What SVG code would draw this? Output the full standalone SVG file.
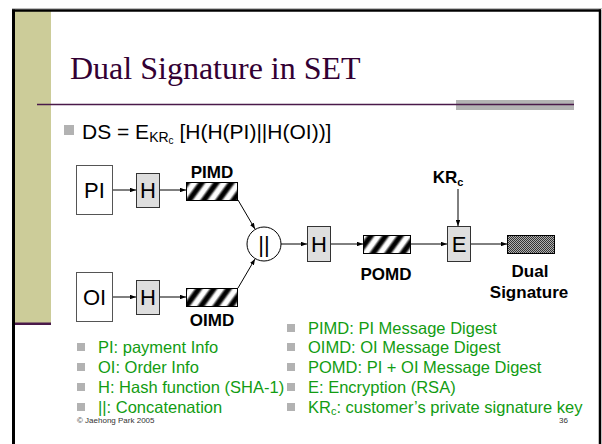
<svg xmlns="http://www.w3.org/2000/svg" width="602" height="444" viewBox="0 0 602 444">
  <style>
    .title { font-family: "Liberation Serif", "Times New Roman", serif; font-size: 32px; fill: #330033; }
    .body { font-family: "Liberation Sans", Arial, sans-serif; font-size: 21px; fill: #000; }
    .lbl { font-family: "Liberation Sans", Arial, sans-serif; font-size: 17px; font-weight: bold; fill: #000; text-anchor: middle; }
    .box-t { font-family: "Liberation Sans", Arial, sans-serif; font-size: 22px; fill: #000; text-anchor: middle; }
    .legend { font-family: "Liberation Sans", Arial, sans-serif; font-size: 16.5px; fill: #129c12; }
    .foot { font-family: "Liberation Sans", Arial, sans-serif; font-size: 8px; fill: #333; }
    .bullet { fill: #b2b2b2; }
    .src { fill: #fff; stroke: #555; stroke-width: 1; }
    .proc { fill: #dedede; stroke: #333; stroke-width: 1; }
    .digest { fill: url(#hatch); stroke: #000; stroke-width: 1; }
    .sig { fill: url(#dots); stroke: #000; stroke-width: 1; }
    .wire { stroke: #000; stroke-width: 1; fill: none; }
    .arrow { marker-end: url(#head); }
  </style>
  <defs>
    <marker id="head" viewBox="0 0 8 6" refX="8" refY="3" markerWidth="6" markerHeight="4.5" orient="auto" markerUnits="userSpaceOnUse">
      <path d="M0,0 L8,3 L0,6 z" fill="#000"/>
    </marker>
    <linearGradient id="stripe" x1="0" y1="0" x2="1" y2="0">
      <stop offset="0" stop-color="#fff"/>
      <stop offset="0.2" stop-color="#fff"/>
      <stop offset="0.42" stop-color="#000"/>
      <stop offset="0.68" stop-color="#000"/>
      <stop offset="0.9" stop-color="#fff"/>
      <stop offset="1" stop-color="#fff"/>
    </linearGradient>
    <pattern id="hatch" patternUnits="userSpaceOnUse" width="12" height="12" patternTransform="rotate(36)">
      <rect width="12" height="12" fill="url(#stripe)"/>
    </pattern>
    <pattern id="dots" patternUnits="userSpaceOnUse" width="2" height="2">
      <rect width="2" height="2" fill="#b0b0b0"/>
      <rect width="1" height="1" fill="#333"/>
      <rect x="1" y="1" width="1" height="1" fill="#333"/>
    </pattern>
  </defs>

  <rect width="602" height="444" fill="#fff"/>

  <!-- slide frame and side band -->
  <g id="frame">
    <rect x="15" y="11" width="36" height="312" fill="#cccc99"/>
    <rect x="15" y="322.5" width="36" height="2.5" fill="#4a1a4a"/>
    <line x1="12" y1="8.5" x2="602" y2="8.5" stroke="#bdbdbd" stroke-width="1"/>
    <line x1="12" y1="10.5" x2="601" y2="10.5" stroke="#000" stroke-width="2.5"/>
    <line x1="13.5" y1="9.5" x2="13.5" y2="444" stroke="#000" stroke-width="3"/>
    <line x1="600" y1="9.5" x2="600" y2="444" stroke="#000" stroke-width="2.5"/>
    <rect x="456" y="100" width="118" height="10" fill="#b3b3b3"/>
    <line x1="37" y1="104.5" x2="574" y2="104.5" stroke="#4a1a4a" stroke-width="1.3"/>
  </g>

  <g id="title">
    <text class="title" x="70" y="79">Dual Signature in SET</text>
  </g>

  <g id="formula">
    <rect class="bullet" x="64" y="125" width="10" height="10"/>
    <text class="body" x="82" y="139">DS = E<tspan font-size="14" dy="3">KR</tspan><tspan font-size="10" dy="2">c</tspan><tspan dy="-5"> [H(H(PI)||H(OI))]</tspan></text>
  </g>

  <!-- connectors -->
  <g id="connectors">
    <line class="wire arrow" x1="112" y1="190" x2="136" y2="190"/>
    <line class="wire arrow" x1="159" y1="190" x2="186" y2="190"/>
    <line class="wire arrow" x1="112" y1="297" x2="136" y2="297"/>
    <line class="wire arrow" x1="159" y1="297" x2="186" y2="297"/>
    <line class="wire arrow" x1="238" y1="200" x2="255" y2="229"/>
    <line class="wire arrow" x1="238" y1="288" x2="255" y2="259"/>
    <line class="wire arrow" x1="281" y1="244" x2="307" y2="244"/>
    <line class="wire arrow" x1="330" y1="244" x2="363" y2="244"/>
    <line class="wire arrow" x1="411" y1="244" x2="447" y2="244"/>
    <line class="wire arrow" x1="458" y1="189" x2="458" y2="226"/>
    <line class="wire arrow" x1="470" y1="244" x2="507" y2="244"/>
  </g>

  <g id="pi">
    <rect class="src" x="76.5" y="165.5" width="36" height="49"/>
    <text class="box-t" x="94.5" y="198">PI</text>
  </g>
  <g id="h-pi">
    <rect class="proc" x="136.5" y="173.5" width="23" height="34"/>
    <text class="box-t" x="148" y="198">H</text>
  </g>
  <g id="pimd">
    <rect class="digest" x="186.5" y="182.5" width="51" height="18"/>
    <text class="lbl" x="212" y="178">PIMD</text>
  </g>

  <g id="oi">
    <rect class="src" x="76.5" y="272.5" width="36" height="49"/>
    <text class="box-t" x="94.5" y="305">OI</text>
  </g>
  <g id="h-oi">
    <rect class="proc" x="136.5" y="280.5" width="23" height="34"/>
    <text class="box-t" x="148" y="305">H</text>
  </g>
  <g id="oimd">
    <rect class="digest" x="186.5" y="288.5" width="51" height="18"/>
    <text class="lbl" x="212" y="326">OIMD</text>
  </g>

  <g id="concat">
    <circle cx="264" cy="244" r="17" fill="#fff" stroke="#000" stroke-width="1"/>
    <text class="box-t" x="264" y="252">||</text>
  </g>

  <g id="h-po">
    <rect class="proc" x="307.5" y="226.5" width="23" height="35"/>
    <text class="box-t" x="319" y="252">H</text>
  </g>
  <g id="pomd">
    <rect class="digest" x="363.5" y="235.5" width="47" height="18"/>
    <text class="lbl" x="386" y="280">POMD</text>
  </g>

  <g id="key">
    <text class="lbl" x="448" y="183">KR<tspan font-size="11" dy="3">c</tspan></text>
  </g>
  <g id="encrypt">
    <rect class="proc" x="447.5" y="226.5" width="23" height="35"/>
    <text class="box-t" x="459" y="252">E</text>
  </g>

  <g id="dual-signature">
    <rect class="sig" x="507.5" y="235.5" width="47" height="18"/>
    <text class="lbl" x="530" y="277">Dual</text>
    <text class="lbl" x="529" y="298">Signature</text>
  </g>

  <!-- legend -->
  <g id="legend-left">
    <rect class="bullet" x="77" y="343" width="8" height="8"/>
    <text class="legend" x="98" y="353">PI: payment Info</text>
    <rect class="bullet" x="77" y="363" width="8" height="8"/>
    <text class="legend" x="98" y="373">OI: Order Info</text>
    <rect class="bullet" x="77" y="383" width="8" height="8"/>
    <text class="legend" x="98" y="393">H: Hash function (SHA-1)</text>
    <rect class="bullet" x="77" y="403" width="8" height="8"/>
    <text class="legend" x="98" y="413">||: Concatenation</text>
  </g>
  <g id="legend-right">
    <rect class="bullet" x="287" y="324" width="8" height="8"/>
    <text class="legend" x="308" y="334">PIMD: PI Message Digest</text>
    <rect class="bullet" x="287" y="343" width="8" height="8"/>
    <text class="legend" x="308" y="353">OIMD: OI Message Digest</text>
    <rect class="bullet" x="287" y="363" width="8" height="8"/>
    <text class="legend" x="308" y="373">POMD: PI + OI Message Digest</text>
    <rect class="bullet" x="287" y="383" width="8" height="8"/>
    <text class="legend" x="308" y="393">E: Encryption (RSA)</text>
    <rect class="bullet" x="287" y="403" width="8" height="8"/>
    <text class="legend" x="308" y="413">KR<tspan font-size="11" dy="2">c</tspan><tspan dy="-2">: customer’s private signature key</tspan></text>
  </g>

  <g id="footer">
    <text class="foot" x="77" y="423">© Jaehong Park 2005</text>
    <text class="foot" x="559" y="423">36</text>
  </g>
</svg>
